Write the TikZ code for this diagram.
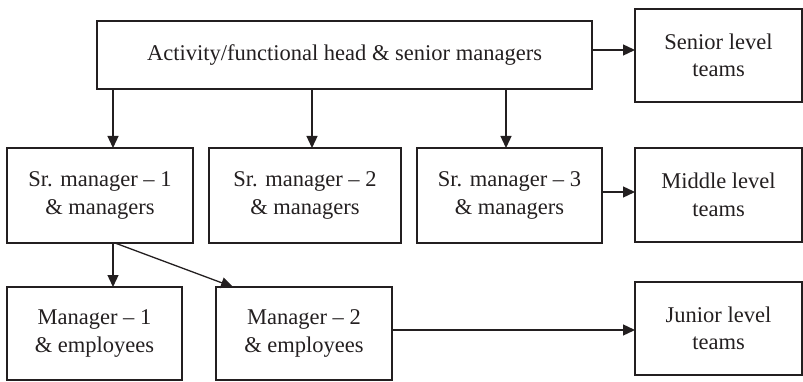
\documentclass[tikz,border=0pt]{standalone}
\usepackage{fontspec}
\setmainfont{Liberation Serif}
\usetikzlibrary{arrows.meta}
\definecolor{ink}{HTML}{231F20}
\begin{document}
\begin{tikzpicture}[x=1pt,y=-1pt,
  box/.style={draw=ink, line width=1.8pt, text=ink, align=center,
    inner sep=0pt, outer sep=0pt, font=\fontsize{22.5}{27.5}\selectfont},
  link/.style={draw=ink, line width=1.3pt,
    -{Triangle[length=12pt,width=11pt]}}]
  \useasboundingbox (0,0) rectangle (803,382);

  % top tier
  \node[box, minimum width=495pt, minimum height=68pt] (top) at (344.5,55)
    {Activity/functional head \& senior managers};
  \node[box, minimum width=167pt, minimum height=93pt] (senior) at (718.5,55.2)
    {Senior level\\teams};

  % middle tier
  \node[box, minimum width=186pt, minimum height=95pt] (sm1) at (100,195.5)
    {Sr. manager -- 1\\\& managers};
  \node[box, minimum width=192pt, minimum height=95pt] (sm2) at (305,195.5)
    {Sr. manager -- 2\\\& managers};
  \node[box, minimum width=185pt, minimum height=95pt] (sm3) at (509.5,195.5)
    {Sr. manager -- 3\\\& managers};
  \node[box, minimum width=167pt, minimum height=94pt] (middle) at (718.5,195)
    {Middle level\\teams};

  % bottom tier
  \node[box, minimum width=175pt, minimum height=93pt] (m1) at (94.5,333.5)
    {Manager -- 1\\\& employees};
  \node[box, minimum width=176pt, minimum height=93pt] (m2) at (304,333.5)
    {Manager -- 2\\\& employees};
  \node[box, minimum width=167pt, minimum height=93pt] (junior) at (718.5,328.3)
    {Junior level\\teams};

  % connector guide positions
  \coordinate (x1) at (113,0);
  \coordinate (x2) at (312,0);
  \coordinate (x3) at (506,0);
  \coordinate (ya) at (0,50);
  \coordinate (yb) at (0,192);
  \coordinate (yc) at (0,330);
  \coordinate (fork) at (115,0);
  \coordinate (land) at (233,0);

  % connectors
  \draw[link] (top.south -| x1) -- (sm1.north -| x1);
  \draw[link] (top.south -| x2) -- (sm2.north -| x2);
  \draw[link] (top.south -| x3) -- (sm3.north -| x3);
  \draw[link] (top.east |- ya) -- (senior.west |- ya);
  \draw[link] (sm3.east |- yb) -- (middle.west |- yb);
  \draw[link] (sm1.south -| x1) -- (m1.north -| x1);
  \draw[link] (sm1.south -| fork) -- (m2.north -| land);
  \draw[link] (m2.east |- yc) -- (junior.west |- yc);
\end{tikzpicture}
\end{document}
